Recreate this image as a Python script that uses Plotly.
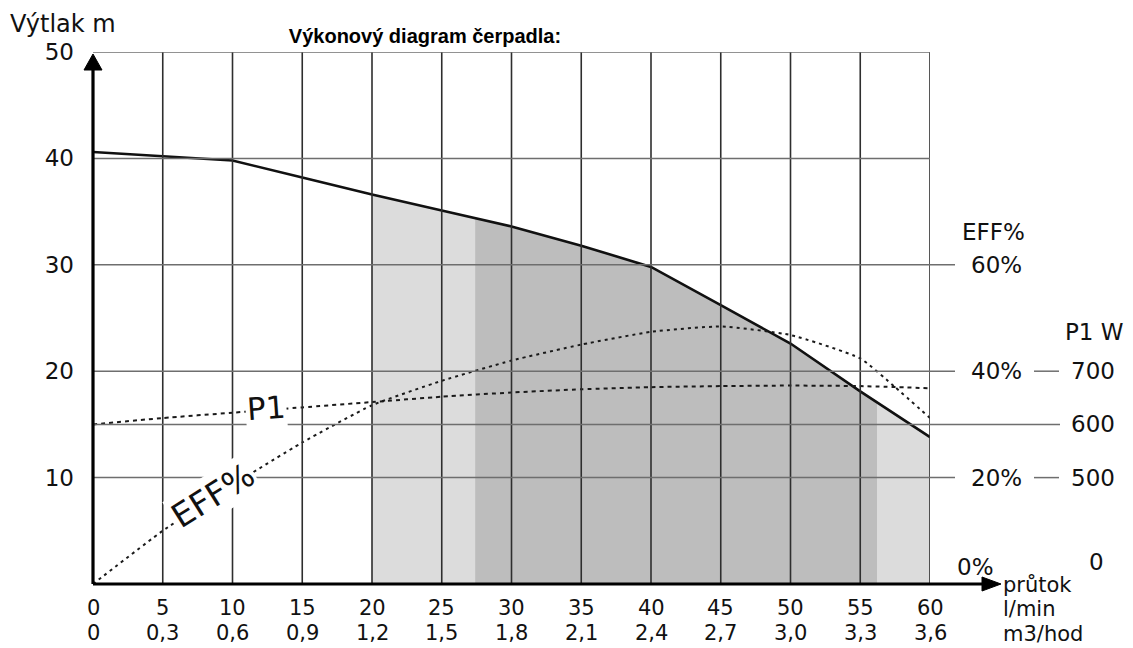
import plotly.graph_objects as go

# ---------------- data ----------------
flow_lmin = [0, 5, 10, 15, 20, 25, 30, 35, 40, 45, 50, 55, 60]
flow_m3h = ["0", "0,3", "0,6", "0,9", "1,2", "1,5", "1,8", "2,1", "2,4", "2,7", "3,0", "3,3", "3,6"]
head_m = [40.6, 40.2, 39.8, 38.2, 36.6, 35.1, 33.6, 31.8, 29.8, 26.2, 22.6, 18.1, 13.8]

eff_flow = [0, 5, 10, 15, 20, 25, 30, 35, 40, 45, 50, 55, 57.5, 60]
eff_pct = [0, 10, 18.6, 26.6, 33.6, 38.2, 42, 45, 47.4, 48.4, 46.8, 42.4, 37, 31.2]

p1_flow = [0, 5, 10, 15, 20, 25, 30, 35, 40, 45, 50, 55, 60]
p1_w = [600, 612, 622, 632, 642, 652, 660, 666, 670, 672, 673, 672, 668]

light_flow = [20, 25, 30, 35, 40, 45, 50, 55, 60]
light_head = [36.6, 35.1, 33.6, 31.8, 29.8, 26.2, 22.6, 18.1, 13.8]
dark_flow = [27.4, 30, 35, 40, 45, 50, 55, 56.2]
dark_head = [34.4, 33.6, 31.8, 29.8, 26.2, 22.6, 18.1, 17.2]

y_ticks = [10, 20, 30, 40, 50]
eff_ticks = [20, 40, 60]
eff_labels = ["20%", "40%", "60%"]
p1_ticks = [500, 600, 700]
p1_labels = ["500", "600", "700"]

# ---------------- geometry (reference pixel coords -> paper) ----------------
# the page body has an 8px margin, so the figure is drawn 8px smaller/offset
OFF = 8
W, H = 1133 - OFF, 648 - OFF
L, R, T, B = 93, 930, 52, 584          # plot area in reference pixels


def px(x):
    return (x - L) / (R - L)


def py(y):
    return (B - y) / (B - T)


FONT = "DejaVu Sans"
SMALL = 21
fig = go.Figure()

# shaded operating ranges
fig.add_trace(go.Scatter(x=light_flow, y=light_head, mode="lines", fill="tozeroy",
                         fillcolor="#dcdcdc", line=dict(width=0), hoverinfo="skip"))
fig.add_trace(go.Scatter(x=dark_flow, y=dark_head, mode="lines", fill="tozeroy",
                         fillcolor="#bdbdbd", line=dict(width=0), hoverinfo="skip"))

# curves
fig.add_trace(go.Scatter(x=p1_flow, y=p1_w, yaxis="y3", mode="lines",
                         line=dict(color="#1a1a1a", width=2, dash="4px,4px", shape="spline", smoothing=0.5)))
fig.add_trace(go.Scatter(x=eff_flow, y=eff_pct, yaxis="y2", mode="lines",
                         line=dict(color="#1a1a1a", width=2, dash="3px,4px", shape="spline", smoothing=0.5)))
fig.add_trace(go.Scatter(x=flow_lmin, y=head_m, mode="lines",
                         line=dict(color="#111111", width=2.6)))

shapes = []
# vertical grid
for xv in flow_lmin[1:]:
    shapes.append(dict(type="line", xref="x", yref="y", x0=xv, x1=xv, y0=0, y1=50,
                       line=dict(color="#2e2e2e", width=1.6), layer="above"))
# horizontal grid
for yv, xend in [(50, R), (40, R), (30, 955), (20, 955), (10, 955), (15, 1060)]:
    shapes.append(dict(type="line", xref="paper", yref="y", x0=0, x1=px(xend), y0=yv, y1=yv,
                       line=dict(color="#6e6e6e", width=1.5), layer="above"))
# short dashes between EFF and P1 labels
for yv in [20, 10]:
    shapes.append(dict(type="line", xref="paper", yref="y", x0=px(1034), x1=px(1059), y0=yv, y1=yv,
                       line=dict(color="#6e6e6e", width=1.5), layer="above"))
# axes lines with arrows
shapes.append(dict(type="line", xref="paper", yref="paper", x0=0, x1=0, y0=0, y1=py(66),
                   line=dict(color="black", width=3.2), layer="above"))
shapes.append(dict(type="path", xref="paper", yref="paper",
                   path=f"M {px(93)} {py(54)} L {px(84)} {py(70)} L {px(102)} {py(70)} Z",
                   fillcolor="black", line=dict(color="black", width=1), layer="above"))
shapes.append(dict(type="line", xref="paper", yref="paper", x0=0, x1=px(984), y0=0, y1=0,
                   line=dict(color="black", width=3), layer="above"))
shapes.append(dict(type="path", xref="paper", yref="paper",
                   path=f"M {px(1001)} {py(B)} L {px(982)} {py(B-7)} L {px(982)} {py(B+7)} Z",
                   fillcolor="black", line=dict(color="black", width=1), layer="above"))

annotations = []
# x tick labels (two rows: l/min and m3/hod)
for v, t2 in zip(flow_lmin, flow_m3h):
    annotations.append(dict(xref="x", yref="paper", x=v, y=py(608), text=str(v), showarrow=False,
                            xanchor="center", yanchor="middle", font=dict(size=SMALL)))
    annotations.append(dict(xref="x", yref="paper", x=v, y=py(633), text=t2, showarrow=False,
                            xanchor="center", yanchor="middle", font=dict(size=SMALL)))
# right-side EFF labels
for v, t in zip(eff_ticks, eff_labels):
    annotations.append(dict(xref="paper", yref="y2", x=px(997), y=v, text=t, showarrow=False,
                            xanchor="center", yanchor="middle", font=dict(size=23)))
annotations.append(dict(xref="paper", yref="y2", x=px(993), y=66.2, text="EFF%", showarrow=False,
                        xanchor="center", yanchor="middle", font=dict(size=23)))
annotations.append(dict(xref="paper", yref="paper", x=px(975), y=py(567), text="0%", showarrow=False,
                        xanchor="center", yanchor="middle", font=dict(size=23)))
# right-side P1 labels
for v, t in zip(p1_ticks, p1_labels):
    annotations.append(dict(xref="paper", yref="y3", x=px(1093), y=v, text=t, showarrow=False,
                            xanchor="center", yanchor="middle", font=dict(size=23)))
annotations.append(dict(xref="paper", yref="paper", x=px(1094), y=py(332), text="P1 W", showarrow=False,
                        xanchor="center", yanchor="middle", font=dict(size=23)))
annotations.append(dict(xref="paper", yref="paper", x=px(1096), y=py(562), text="0", showarrow=False,
                        xanchor="center", yanchor="middle", font=dict(size=23)))
# x axis unit labels
for t, yy in [("průtok", 585), ("l/min", 609), ("m3/hod", 634)]:
    annotations.append(dict(xref="paper", yref="paper", x=px(1001), y=py(yy), text=t, showarrow=False,
                            xanchor="left", yanchor="middle", font=dict(size=SMALL)))
# y axis title
annotations.append(dict(xref="paper", yref="paper", x=px(8), y=py(24), text="Výtlak m", showarrow=False,
                        xanchor="left", yanchor="middle", font=dict(size=24)))
# curve labels
annotations.append(dict(xref="x", yref="y", x=12.4, y=16.5, text="P1", showarrow=False, textangle=-4,
                        bgcolor="white", xanchor="center", yanchor="middle", font=dict(size=31)))
annotations.append(dict(xref="x", yref="y", x=8.6, y=8.3, text="EFF%", showarrow=False, textangle=-32,
                        bgcolor="white", xanchor="center", yanchor="middle", font=dict(size=33)))

fig.update_layout(
    width=W, height=H,
    margin=dict(l=L - OFF, r=W - (R - OFF), t=T - OFF, b=H - (B - OFF), autoexpand=False),
    plot_bgcolor="white", paper_bgcolor="white", showlegend=False,
    font=dict(family=FONT, size=23, color="#111111"),
    title=dict(text="<b>Výkonový diagram čerpadla:</b>", x=(425 - OFF) / W, y=1 - (36 - OFF) / H,
               xanchor="center", yanchor="middle", xref="container", yref="container",
               automargin=False,
               font=dict(family="Liberation Sans", size=20, color="black")),
    xaxis=dict(range=[0, 60], tickvals=flow_lmin, showticklabels=False, automargin=False,
               showgrid=False, zeroline=False, showline=False, ticks=""),
    yaxis=dict(range=[0, 50], tickvals=y_ticks, showgrid=False, zeroline=False, showline=False,
               automargin=False, ticks="", ticklabelstandoff=18, tickfont=dict(size=23)),
    yaxis2=dict(range=[0, 100], overlaying="y", visible=False, automargin=False),
    yaxis3=dict(range=[300, 1300], overlaying="y", visible=False, automargin=False),
    shapes=shapes, annotations=annotations,
)

fig.write_html("out.html")
